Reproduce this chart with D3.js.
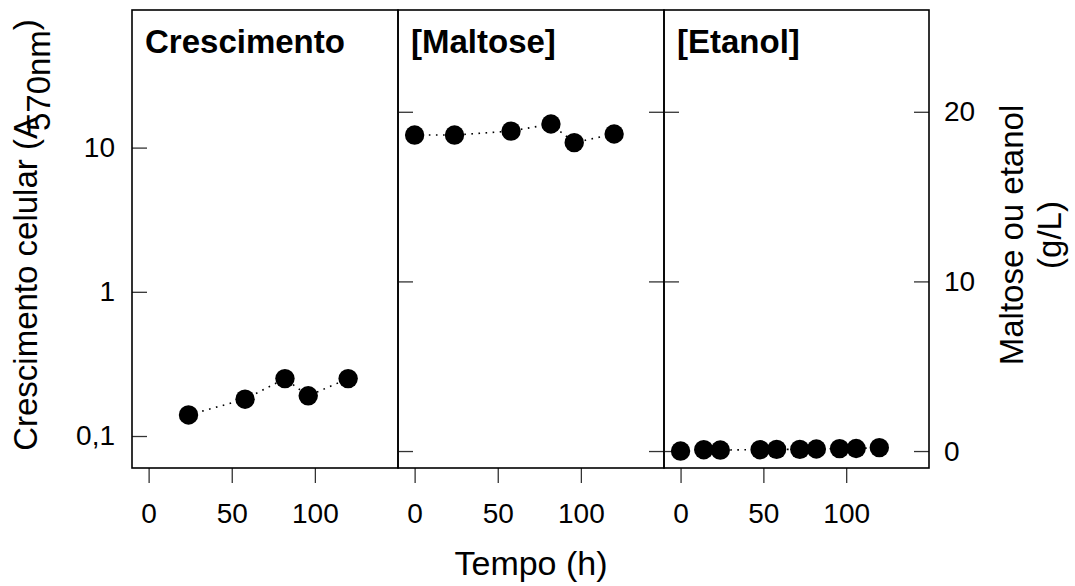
<!DOCTYPE html>
<html>
<head>
<meta charset="utf-8">
<script src="https://cdn.jsdelivr.net/npm/d3@7"></script>
<style>
  body { margin: 0; background: #fff; }
  text { font-family: "Liberation Sans", Arial, sans-serif; fill: #000; }
</style>
</head>
<body>
<div id="chart"></div>
<script>
// data
var growthTime = [24, 58, 82, 96, 120];
var growthOD = [0.14, 0.18, 0.25, 0.19, 0.25];

var maltoseTime = [0, 24, 58, 82, 96, 120];
var maltoseConc = [18.63, 18.63, 18.86, 19.28, 18.18, 18.69];

var ethanolTime = [0, 14, 24, 48, 58, 72, 82, 96, 106, 120];
var ethanolConc = [0, 0.08, 0.06, 0.08, 0.1, 0.1, 0.12, 0.14, 0.15, 0.2];

var panelTitles = ["Crescimento", "[Maltose]", "[Etanol]"];
var timeTicks = [0, 50, 100];
var logTicks = [0.1, 1, 10];
var logTickLabels = ["0,1", "1", "10"];
var concTicks = [0, 10, 20];

var width = 1075, height = 586;
var plotTop = 10, plotBottom = 468;
var edges = [132, 398, 664, 929];

var svg = d3.select("#chart").append("svg")
    .attr("width", width)
    .attr("height", height);

var yLog = d3.scaleLog().domain([0.06, 90]).range([plotBottom, plotTop]);
var yLin = d3.scaleLinear().domain([-1, 26]).range([plotBottom, plotTop]);

var panels = [
    { t: growthTime, v: growthOD, y: yLog },
    { t: maltoseTime, v: maltoseConc, y: yLin },
    { t: ethanolTime, v: ethanolConc, y: yLin }
];

function styleAxis(a){
    a.select(".domain").remove();
    a.selectAll("line").attr("stroke", "#333").attr("stroke-width", 1.3);
    a.selectAll("text").attr("font-size", "28px").attr("font-family", "Liberation Sans, Arial");
}

panels.forEach(function(p, i){
    var x = d3.scaleLinear().domain([-10, 150]).range([edges[i], edges[i + 1]]);
    var g = svg.append("g");

    // x axis below the panel
    var xa = g.append("g")
        .attr("transform", "translate(0," + plotBottom + ")")
        .call(d3.axisBottom(x).tickValues(timeTicks).tickSize(15).tickPadding(20));
    styleAxis(xa);

    // inward y ticks
    var left = g.append("g").attr("transform", "translate(" + edges[i] + ",0)");
    if (i == 0) {
        left.call(d3.axisLeft(yLog).tickValues(logTicks).tickSize(-15).tickPadding(17)
            .tickFormat(function(d, k){ return logTickLabels[k]; }));
    } else {
        left.call(d3.axisLeft(yLin).tickValues(concTicks).tickSize(-15).tickFormat(""));
    }
    styleAxis(left);

    if (i > 0) {
        var right = g.append("g").attr("transform", "translate(" + edges[i + 1] + ",0)");
        right.call(d3.axisRight(yLin).tickValues(concTicks).tickSize(-15).tickPadding(15)
            .tickFormat(i == 2 ? d3.format("d") : ""));
        styleAxis(right);
    }

    // panel box
    g.append("rect")
        .attr("x", edges[i]).attr("y", plotTop)
        .attr("width", edges[i + 1] - edges[i]).attr("height", plotBottom - plotTop)
        .attr("fill", "none").attr("stroke", "#000").attr("stroke-width", 1.6);

    // title
    g.append("text")
        .attr("x", edges[i] + 13)
        .attr("y", 53)
        .attr("font-size", "33px")
        .attr("font-weight", "bold")
        .text(panelTitles[i]);

    // dotted line + points
    var pts = p.t.map(function(t, k){ return [t, p.v[k]]; });
    var line = d3.line().x(function(d){ return x(d[0]); }).y(function(d){ return p.y(d[1]); });
    g.append("path")
        .attr("d", line(pts))
        .attr("fill", "none")
        .attr("stroke", "#000")
        .attr("stroke-width", 1.6)
        .attr("stroke-dasharray", "1.6,5.5");
    g.selectAll("circle").data(pts).enter().append("circle")
        .attr("cx", function(d){ return x(d[0]); })
        .attr("cy", function(d){ return p.y(d[1]); })
        .attr("r", 9.7)
        .attr("fill", "#000");
});

// x title
svg.append("text")
    .attr("x", 531).attr("y", 575)
    .attr("text-anchor", "middle")
    .attr("font-size", "34px")
    .text("Tempo (h)");

// left y title, subscript drawn over the A as in the original
var yl = svg.append("text")
    .attr("transform", "translate(37,235) rotate(-90)")
    .attr("text-anchor", "middle")
    .attr("font-size", "33px");
yl.append("tspan").text("Crescimento celular (A");
yl.append("tspan").attr("dx", -14).attr("dy", 13).text("570nm");
yl.append("tspan").attr("dy", -13).text(")");

// right y title
var yr = svg.append("text")
    .attr("transform", "translate(1023,235) rotate(-90)")
    .attr("text-anchor", "middle")
    .attr("font-size", "33px");
yr.append("tspan").attr("x", 0).text("Maltose ou etanol");
yr.append("tspan").attr("x", 0).attr("dy", 38).text("(g/L)");
</script>
</body>
</html>
